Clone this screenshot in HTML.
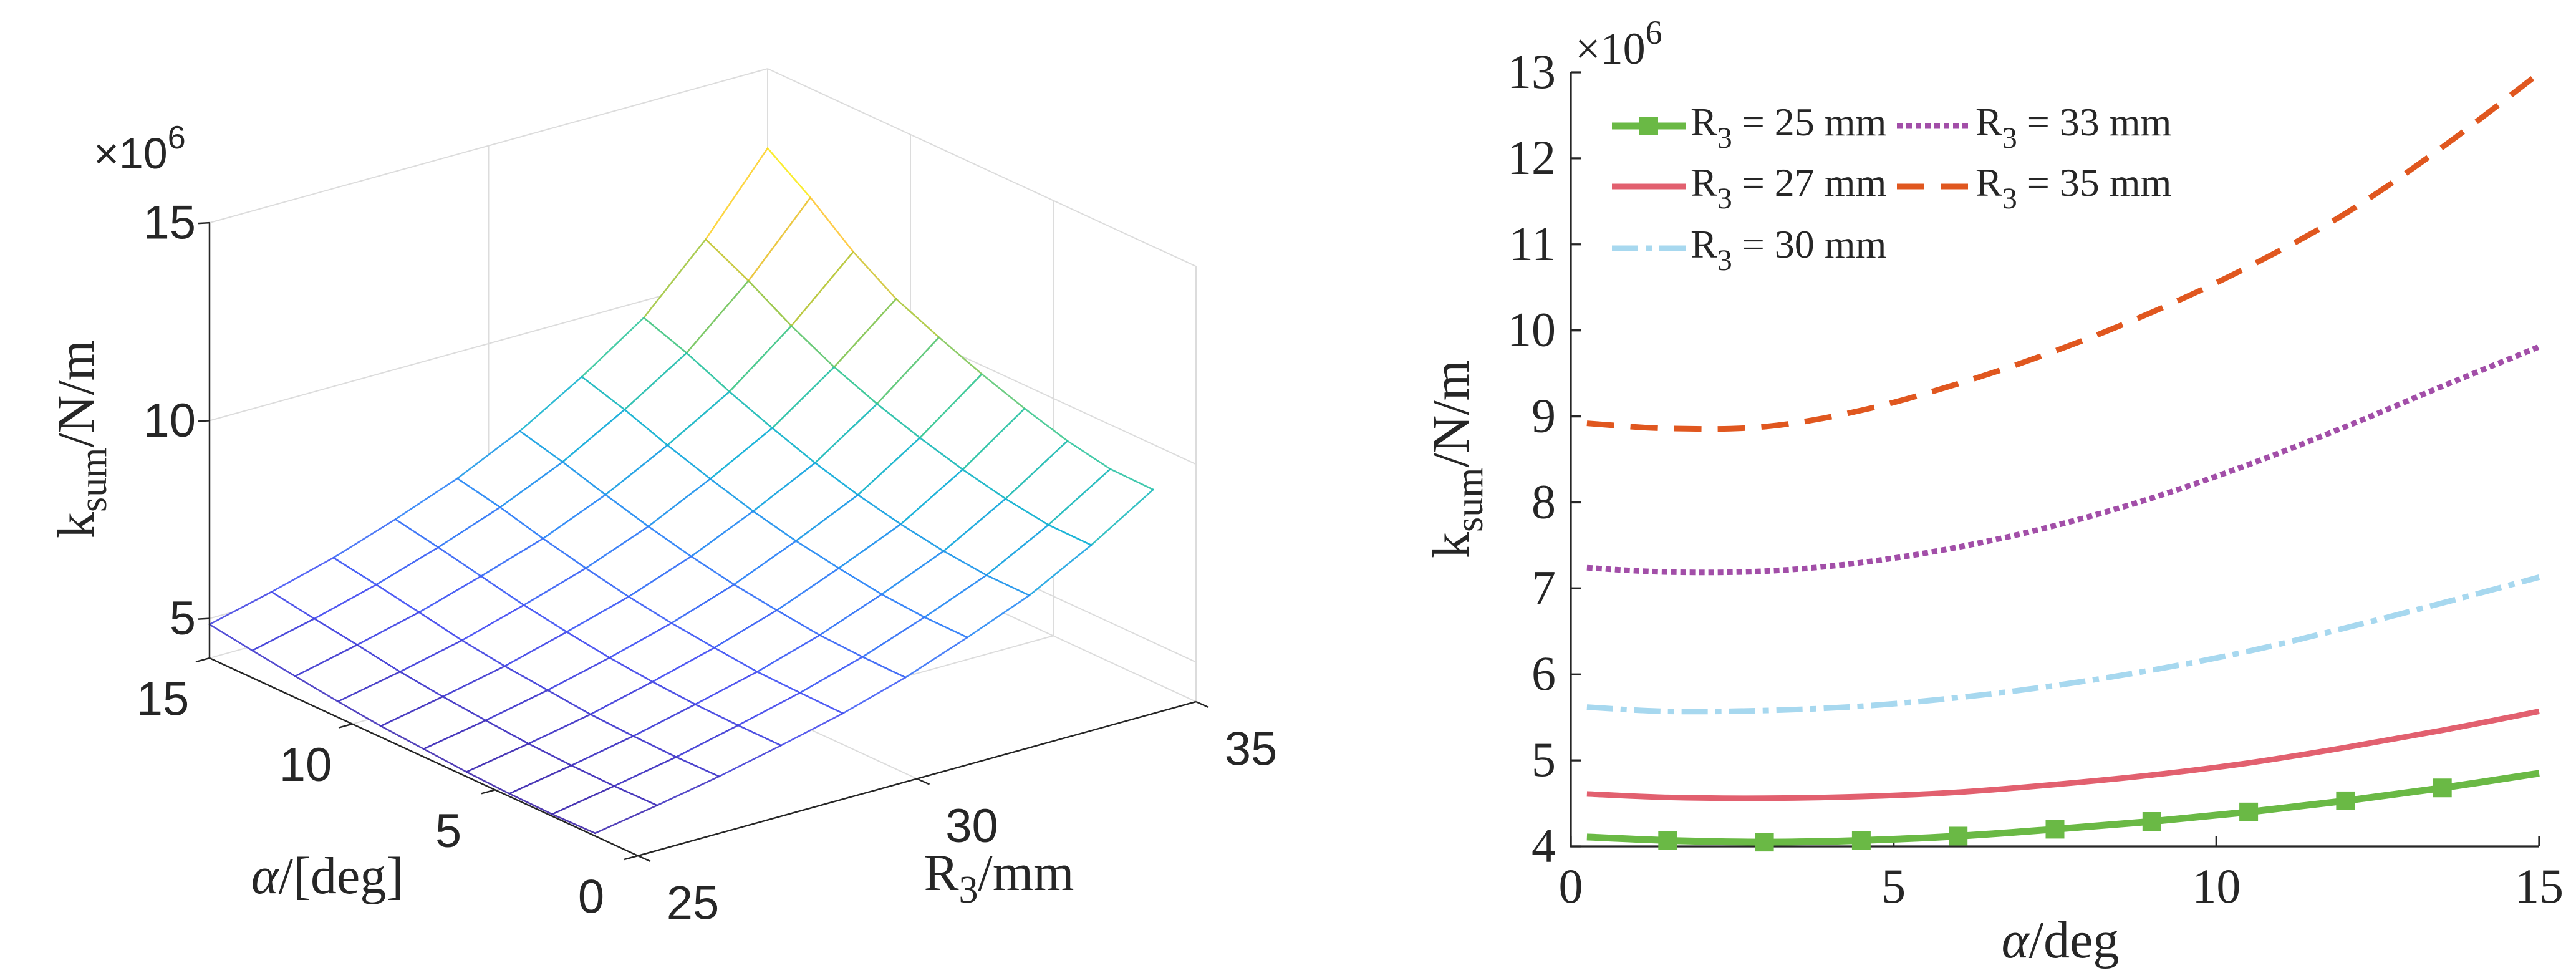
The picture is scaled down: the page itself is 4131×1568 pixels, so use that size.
<!DOCTYPE html>
<html><head><meta charset="utf-8"><style>
html,body{margin:0;padding:0;background:#fff}
svg{display:block}
.sans{font-family:"Liberation Sans",Arial,sans-serif;fill:#262626}
.serif{font-family:"Liberation Serif","Times New Roman",serif;fill:#262626}
</style></head><body>
<svg id="fig" width="4131" height="1568" viewBox="0 0 4131 1568" xmlns="http://www.w3.org/2000/svg">
<rect width="4131" height="1568" fill="#fff"/>
<g id="left"></g>
<g id="right"></g>
</svg>
<script>
// ---------- data ----------
const surfAlpha = [1.5,3,4.5,6,7.5,9,10.5,12,13.5,15];
const surfR = [25,26.11,27.22,28.33,29.44,30.56,31.67,32.78,33.89,35];
const surfZ0 = [4.07,4.05,4.07,4.12,4.20,4.28,4.40,4.54,4.69,4.85];
const surfZ1 = [4.34,4.33,4.35,4.40,4.49,4.59,4.72,4.90,5.06,5.24];
const surfZ2 = [4.64,4.63,4.66,4.71,4.82,4.93,5.08,5.29,5.49,5.67];
const surfZ3 = [4.99,5.00,5.03,5.10,5.21,5.36,5.54,5.77,6.00,6.21];
const surfZ4 = [5.37,5.39,5.42,5.53,5.65,5.82,6.04,6.29,6.58,6.81];
const surfZ5 = [5.84,5.86,5.91,6.04,6.19,6.40,6.66,6.96,7.29,7.57];
const surfZ6 = [6.42,6.43,6.51,6.67,6.86,7.11,7.43,7.78,8.18,8.51];
const surfZ7 = [7.05,7.06,7.17,7.35,7.59,7.90,8.28,8.70,9.18,9.57];
const surfZ8 = [7.89,7.90,8.06,8.30,8.60,8.96,9.39,9.93,10.57,11.12];
const surfZ9 = [8.86,8.88,9.09,9.41,9.78,10.21,10.68,11.37,12.24,12.99];
const zTicks = [5,10,15];
const aTicks3d = [0,5,10,15];
const rTicks3d = [25,30,35];

const lineAlpha = [0.25,1.5,3,4.5,6,7.5,9,10.5,12,13.5,15];
const k25 = [4.11,4.07,4.05,4.07,4.12,4.20,4.29,4.40,4.53,4.68,4.85];
const k27 = [4.61,4.57,4.56,4.58,4.63,4.72,4.83,4.97,5.15,5.35,5.57];
const k30 = [5.62,5.57,5.58,5.63,5.73,5.87,6.05,6.27,6.54,6.83,7.13];
const k33 = [7.24,7.19,7.20,7.30,7.48,7.73,8.05,8.44,8.88,9.35,9.81];
const k35 = [8.92,8.86,8.88,9.07,9.38,9.76,10.21,10.74,11.36,12.13,12.99];
const xTickVals = [0,5,10,15];
const yTickVals = [4,5,6,7,8,9,10,11,12,13];

const NS="http://www.w3.org/2000/svg";
function mk(tag,attrs,parent){const e=document.createElementNS(NS,tag);for(const k in attrs)e.setAttribute(k,attrs[k]);parent.appendChild(e);return e;}

// ---------- left 3D ----------
const L=document.getElementById('left');
function px(a,R,z){return 1023+(R-25)*89.5-a*45.8;}
function py(a,R,z){return 1372-(R-25)*24.7-a*21.13-(z-4)*63.45;}
function seg(p,q,stroke,w,name){
  const e=mk('line',{x1:p[0],y1:p[1],x2:q[0],y2:q[1],stroke:stroke,'stroke-width':w},L);
  
  
  return e;
}
function P(a,R,z){return [px(a,R,z),py(a,R,z)];}
const grid='#dcdcdc';
seg(P(15,25,4),P(15,35,4),grid,2,'floor-back-edge');
seg(P(0,35,4),P(15,35,4),grid,2,'floor-right-edge');
seg(P(15,35,4),P(15,35,15),grid,2,'back-corner-edge');
seg(P(15,25,15),P(15,35,15),grid,2,'top-left-edge');
seg(P(0,35,15),P(15,35,15),grid,2,'top-right-edge');
seg(P(0,35,4),P(0,35,15),grid,2,'right-vertical-edge');
[5,10].forEach(z=>{
  seg(P(15,25,z),P(15,35,z),grid,2,'back-wall-gridline');
  seg(P(0,35,z),P(15,35,z),grid,2,'side-wall-gridline');
});
seg(P(15,30,4),P(15,30,15),grid,2,'back-wall-gridline');
[5,10].forEach(a=>seg(P(a,35,4),P(a,35,15),grid,2,'side-wall-gridline'));
seg(P(0,30,4),P(15,30,4),grid,2,'floor-gridline');
[5,10].forEach(a=>seg(P(a,25,4),P(a,35,4),grid,2,'floor-gridline'));

const surfZ=[surfZ0,surfZ1,surfZ2,surfZ3,surfZ4,surfZ5,surfZ6,surfZ7,surfZ8,surfZ9];
const zAll=[].concat(...surfZ);const zmin=Math.min(...zAll),zmax=Math.max(...zAll);
const parula=[[62,38,168],[72,82,244],[46,135,247],[18,177,214],[55,200,151],[170,199,57],[254,195,56],[249,251,14]];
function col(z){let t=(z-zmin)/(zmax-zmin);t=Math.max(0,Math.min(1,t))*(parula.length-1);const i=Math.min(parula.length-2,Math.floor(t)),f=t-i;const c=parula[i].map((v,k)=>Math.round(v+(parula[i+1][k]-v)*f));return 'rgb('+c.join(',')+')';}
const quads=[];
for(let r=0;r<surfR.length-1;r++)for(let i=0;i<surfAlpha.length-1;i++)quads.push([r,i]);
quads.sort((A,B)=>(B[0]+B[1])-(A[0]+A[1]));
const S=mk('g',{},L);


quads.forEach(([r,i])=>{
  const pts=[[i,r],[i+1,r],[i+1,r+1],[i,r+1]].map(([ii,rr])=>P(surfAlpha[ii],surfR[rr],surfZ[rr][ii]));
  const poly=mk('polygon',{points:pts.map(p=>p.join(',')).join(' '),fill:'#fff',stroke:'none'},S);
  
  
  const edges=[[[i,r],[i+1,r]],[[i+1,r],[i+1,r+1]],[[i+1,r+1],[i,r+1]],[[i,r+1],[i,r]]];
  edges.forEach(([u,v])=>{
    const z=(surfZ[u[1]][u[0]]+surfZ[v[1]][v[0]])/2;
    const p=P(surfAlpha[u[0]],surfR[u[1]],surfZ[u[1]][u[0]]),q=P(surfAlpha[v[0]],surfR[v[1]],surfZ[v[1]][v[0]]);
    const e=mk('line',{x1:p[0],y1:p[1],x2:q[0],y2:q[1],stroke:col(z),'stroke-width':2.6,'stroke-linecap':'round','stroke-opacity':0.9},S);
    
    
  });
});
const ax='#262626';
seg(P(15,25,4),P(15,25,15),ax,2.5,'z-axis');
seg(P(15,25,4),P(0,25,4),ax,2.5,'alpha-axis');
seg(P(0,25,4),P(0,35,4),ax,2.5,'r3-axis');
zTicks.forEach(z=>{
  const p=P(15,25,z);
  seg(p,[p[0]-18,p[1]+1],ax,2.5,'z-tick');
  const t=mk('text',{x:p[0]-22,y:p[1],'text-anchor':'end','dominant-baseline':'central','font-size':76,class:'sans'},L);
  
  
  t.textContent=z;
});
aTicks3d.forEach(a=>{
  const p=P(a,25,4);
  seg(p,[p[0]-22,p[1]+6],ax,2.5,'alpha-tick');
  const t=mk('text',{x:p[0]-75,y:p[1]+66,'text-anchor':'middle','dominant-baseline':'central','font-size':76,class:'sans'},L);
  
  
  t.textContent=a;
});
rTicks3d.forEach(R=>{
  const p=P(0,R,4);
  seg(p,[p[0]+20,p[1]+9],ax,2.5,'r3-tick');
  const t=mk('text',{x:p[0]+88,y:p[1]+76,'text-anchor':'middle','dominant-baseline':'central','font-size':76,class:'sans'},L);
  
  
  t.textContent=R;
});

// ---------- right 2D ----------
const Rg=document.getElementById('right');
const X0=2519,X1=4072,Yb=1357,Yt=116;
function X(a){return X0+(a-0)/(15-0)*(X1-X0);}
function Y(v){return Yb-(v-4)/(13-4)*(Yb-Yt);}
const axL=mk('line',{x1:X0,y1:Yb,x2:X0,y2:Yt,stroke:ax,'stroke-width':3.3},Rg);


const axB=mk('line',{x1:X0-1.6,y1:Yb,x2:X1,y2:Yb,stroke:ax,'stroke-width':3.3},Rg);


yTickVals.forEach(v=>{
  const e=mk('line',{x1:X0,y1:Y(v),x2:X0+17,y2:Y(v),stroke:ax,'stroke-width':3.3},Rg);
  
  
  const t=mk('text',{x:X0-24,y:Y(v)+25,'text-anchor':'end','font-size':78,class:'serif'},Rg);
  
  
  t.textContent=v;
});
xTickVals.forEach(v=>{
  const e=mk('line',{x1:X(v),y1:Yb,x2:X(v),y2:Yb-17,stroke:ax,'stroke-width':3.3},Rg);
  
  
  const t=mk('text',{x:X(v),y:Yb+90,'text-anchor':'middle','font-size':78,class:'serif'},Rg);
  
  
  t.textContent=v;
});
const seriesList=[
 {vals:k25,color:'#6ab945',w:11,dash:'',name:'series-r3-25',marker:true},
 {vals:k27,color:'#e2606f',w:9,dash:'',name:'series-r3-27'},
 {vals:k30,color:'#a7d8ef',w:9,dash:'42 12 10 12',name:'series-r3-30'},
 {vals:k33,color:'#a24ea8',w:9,dash:'9 6',name:'series-r3-33'},
 {vals:k35,color:'#e0571f',w:9,dash:'44 26',name:'series-r3-35'}
];
function smoothPath(xs,ys){
  let d='M'+xs[0]+','+ys[0];
  for(let i=0;i<xs.length-1;i++){
    const x0=xs[Math.max(0,i-1)],y0=ys[Math.max(0,i-1)],x1=xs[i],y1=ys[i],x2=xs[i+1],y2=ys[i+1],x3=xs[Math.min(xs.length-1,i+2)],y3=ys[Math.min(xs.length-1,i+2)];
    d+=' C'+(x1+(x2-x0)/6)+','+(y1+(y2-y0)/6)+' '+(x2-(x3-x1)/6)+','+(y2-(y3-y1)/6)+' '+x2+','+y2;
  }
  return d;
}
seriesList.forEach(s=>{
  const xs=lineAlpha.map(X),ys=s.vals.map(Y);
  const p=mk('path',{d:smoothPath(xs,ys),fill:'none',stroke:s.color,'stroke-width':s.w,'stroke-dasharray':s.dash},Rg);
  
  
  if(s.marker){
    for(let i=1;i<lineAlpha.length-1;i++){
      const m=mk('rect',{x:xs[i]-15,y:ys[i]-15,width:30,height:30,fill:s.color},Rg);
      
      
    }
  }
});
const legend=[
 {s:0,x:2585,y:194,label:'25'},{s:1,x:2585,y:291,label:'27'},{s:2,x:2585,y:390,label:'30'},
 {s:3,x:3042,y:194,label:'33'},{s:4,x:3042,y:291,label:'35'}
];
const LG=mk('g',{},Rg);


legend.forEach(e=>{
  const s=seriesList[e.s];
  const l=mk('line',{x1:e.x,y1:e.y+8,x2:e.x+118,y2:e.y+8,stroke:s.color,'stroke-width':s.w,'stroke-dasharray':s.dash},LG);
  
  
  if(s.marker){const m=mk('rect',{x:e.x+44,y:e.y-7,width:30,height:30,fill:s.color},LG);
    
    }
  const t=mk('text',{x:e.x+126,y:e.y+23,'font-size':64,class:'serif'},LG);
  
  
  t.innerHTML='R<tspan dy="20" font-size="48">3</tspan><tspan dy="-20"> = '+e.label+' mm</tspan>';
});
</script>
<svg style="position:absolute;left:0;top:0" width="4131" height="1568" viewBox="0 0 4131 1568" xmlns="http://www.w3.org/2000/svg">
<text class="sans" x="150" y="270" font-size="70">×10<tspan dy="-32" font-size="52">6</tspan></text>
<text class="serif" font-size="84" transform="translate(150,704) rotate(-90)" text-anchor="middle">k<tspan dy="20" font-size="62">sum</tspan><tspan dy="-20">/N/m</tspan></text>
<text class="serif" font-size="84" x="525" y="1432" text-anchor="middle"><tspan font-style="italic">α</tspan>/[deg]</text>
<text class="serif" font-size="84" x="1602" y="1427" text-anchor="middle">R<tspan dy="20" font-size="62">3</tspan><tspan dy="-20">/mm</tspan></text>
<text class="serif" x="2526" y="102" font-size="72">×10<tspan dy="-32" font-size="54">6</tspan></text>
<text class="serif" font-size="84" transform="translate(2355,736) rotate(-90)" text-anchor="middle">k<tspan dy="22" font-size="62">sum</tspan><tspan dy="-22">/N/m</tspan></text>
<text class="serif" font-size="84" x="3304" y="1535" text-anchor="middle"><tspan font-style="italic">α</tspan>/deg</text>
</svg>
</body></html>
